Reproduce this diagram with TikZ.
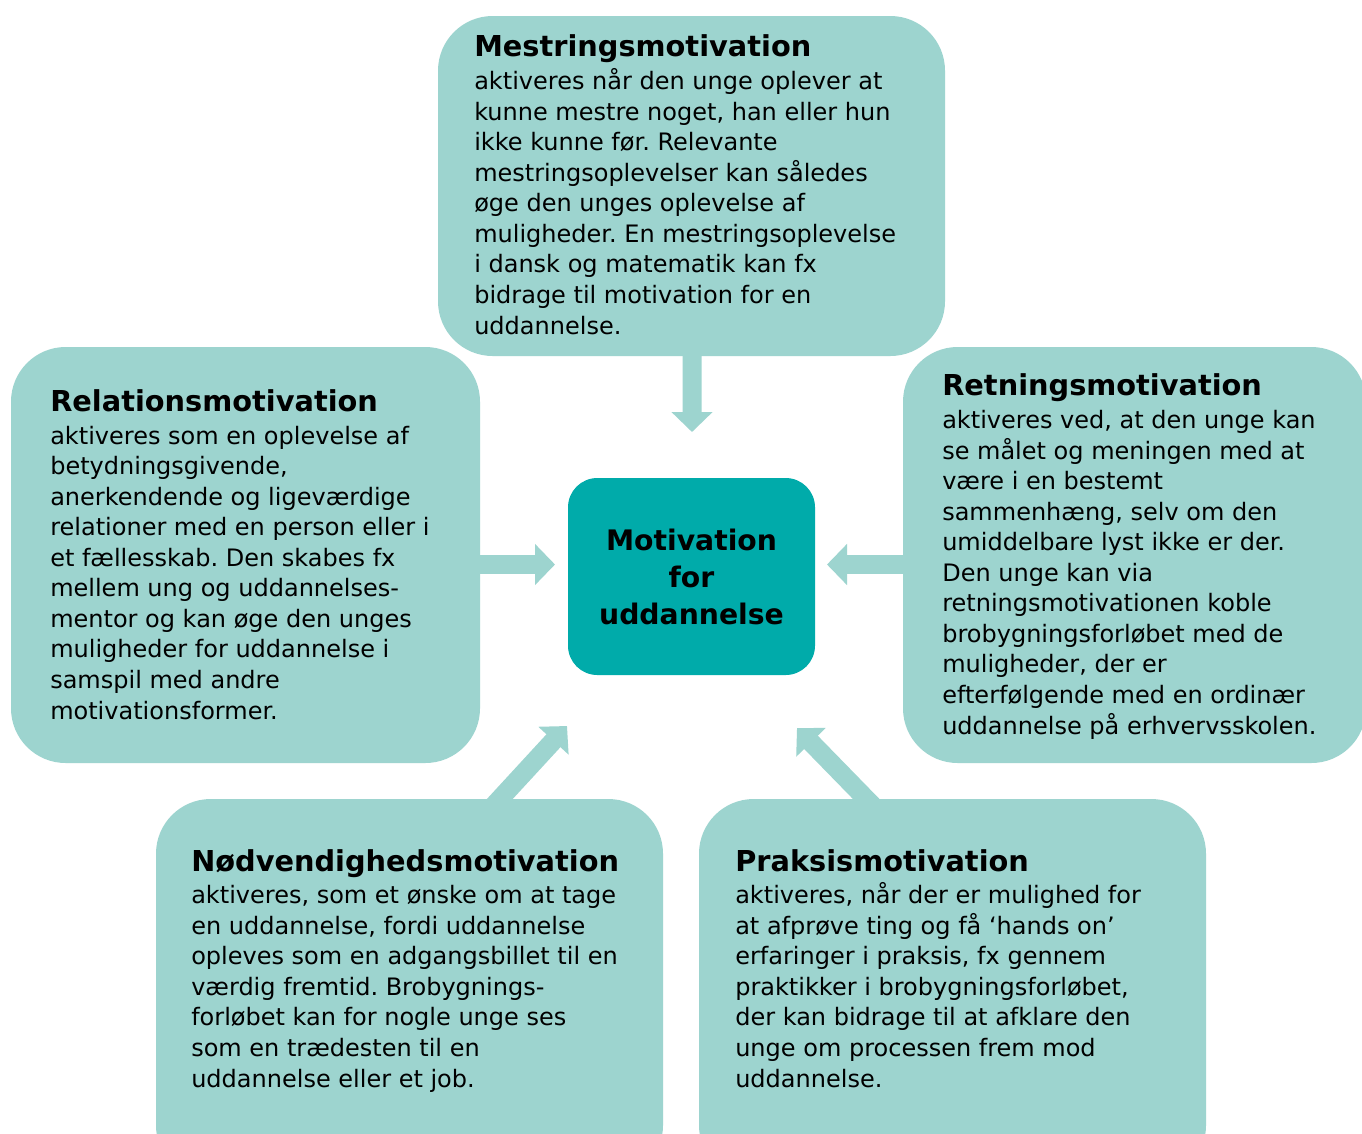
\documentclass[tikz,border=0pt]{standalone}
\usepackage{fontspec}
\setmainfont{DejaVu Sans}
\usetikzlibrary{arrows.meta}
\definecolor{boxc}{RGB}{157,212,207}
\definecolor{centc}{RGB}{0,171,170}
\frenchspacing
\newcommand{\bodyfnt}{\fontsize{18pt}{22.9pt}\selectfont}
\newcommand{\ttlfnt}{\fontsize{21.6pt}{22.9pt}\selectfont\bfseries}
\begin{document}
\begin{tikzpicture}[x=0.75pt,y=-0.75pt,
  box/.style={draw=none, fill=boxc, rounded corners=41pt, inner sep=0, rectangle},
  centbox/.style={draw=none, fill=centc, rounded corners=22pt, inner sep=0, rectangle,
    minimum width=185.25pt, minimum height=147.75pt,
    font=\fontsize{21.2pt}{27.75pt}\selectfont\bfseries, align=center},
  txt/.style={anchor=base west, inner sep=0, align=left, font=\bodyfnt},
  bigarrow/.style={draw=boxc, line width=14.25pt, -{Triangle[length=15pt,width=30pt]}}]
\clip (0,0) rectangle (1362,1133);
\fill[white] (0,0) rectangle (1362,1133);

% boxes
\node[box, minimum width=380.25pt, minimum height=255pt] (top) at (691.5,186) {};
\node[box, minimum width=351.75pt, minimum height=312pt] (left) at (245.5,555) {};
\node[box, minimum width=347.25pt, minimum height=312pt] (right) at (1134.5,555) {};
\node[box, minimum width=380.25pt, minimum height=285.75pt] (bl) at (409.5,989.5) {};
\node[box, minimum width=380.25pt, minimum height=285.75pt] (br) at (952.5,989.5) {};
\node[centbox] (cent) at (691.5,576.5) {Motivation\\for\\uddannelse};

% arrow tips
\coordinate (tipT) at (692,432);
\coordinate (tipL) at (555,564.5);
\coordinate (tipR) at (827,564.5);
\coordinate (tipBL) at (567,726);
\coordinate (tipBR) at (797,728);

\draw[bigarrow, shorten <=-10pt] ([xshift=0.4pt]top.south) -- (tipT);
\draw[bigarrow, shorten <=-10pt] (left.east |- tipL) -- (tipL);
\draw[bigarrow, shorten <=-10pt] (right.west |- tipR) -- (tipR);
\draw[bigarrow, shorten <=-15pt] ([xshift=67.9pt]bl.north) -- (tipBL);
\draw[bigarrow, shorten <=-15pt] ([xshift=-64.9pt]br.north) -- (tipBR);

% texts (anchored at the baseline of their last line)
\node[txt] (ttop) at (474,334) {{\ttlfnt Mestringsmotivation}\\[1.7pt]
aktiveres når den unge oplever at\\
kunne mestre noget, han eller hun\\
ikke kunne før. Relevante\\
mestringsoplevelser kan således\\
øge den unges oplevelse af\\
muligheder. En mestringsoplevelse\\
i dansk og matematik kan fx\\
bidrage til motivation for en\\
uddannelse.};

\node[txt] (tleft) at (50,719) {{\ttlfnt Relationsmotivation}\\[1.7pt]
aktiveres som en oplevelse af\\
betydningsgivende,\\
anerkendende og ligeværdige\\
relationer med en person eller i\\
et fællesskab. Den skabes fx\\
mellem ung og uddannelses-\\
mentor og kan øge den unges\\
muligheder for uddannelse i\\
samspil med andre\\
motivationsformer.};

\node[txt] (tright) at (942,734) {{\ttlfnt Retningsmotivation}\\[1.7pt]
aktiveres ved, at den unge kan\\
se målet og meningen med at\\
være i en bestemt\\
sammenhæng, selv om den\\
umiddelbare lyst ikke er der.\\
Den unge kan via\\
retningsmotivationen koble\\
brobygningsforløbet med de\\
muligheder, der er\\
efterfølgende med en ordinær\\
uddannelse på erhvervsskolen.};

\node[txt] (tbl) at (191,1087) {{\ttlfnt Nødvendighedsmotivation}\\[1.7pt]
aktiveres, som et ønske om at tage\\
en uddannelse, fordi uddannelse\\
opleves som en adgangsbillet til en\\
værdig fremtid. Brobygnings-\\
forløbet kan for nogle unge ses\\
som en trædesten til en\\
uddannelse eller et job.};

\node[txt] (tbr) at (735,1087) {{\ttlfnt Praksismotivation}\\[1.7pt]
aktiveres, når der er mulighed for\\
at afprøve ting og få ‘hands on’\\
erfaringer i praksis, fx gennem\\
praktikker i brobygningsforløbet,\\
der kan bidrage til at afklare den\\
unge om processen frem mod\\
uddannelse.};
\end{tikzpicture}
\end{document}
